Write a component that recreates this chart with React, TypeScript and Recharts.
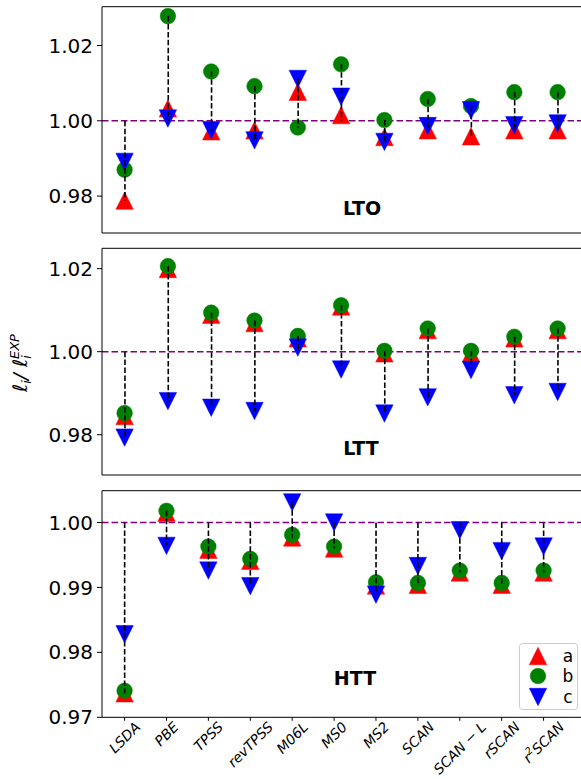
import React from 'react';
import { ComposedChart, Line, Bar, XAxis, YAxis, ReferenceLine } from 'recharts';

const CATEGORIES = ['LSDA', 'PBE', 'TPSS', 'revTPSS', 'M06L', 'MS0', 'MS2', 'SCAN', 'SCAN − L', 'rSCAN', 'r2SCAN'];

// LTO
const LTO_A = [0.9788, 1.0033, 0.9972, 0.9975, 1.0077, 1.0015, 0.9957, 0.9975, 0.9959, 0.9975, 0.9975];
const LTO_B = [0.987, 1.0278, 1.0131, 1.0092, 0.9982, 1.015, 1.0002, 1.0058, 1.0039, 1.0076, 1.0076];
const LTO_C = [0.9891, 1.0006, 0.9975, 0.9948, 1.0111, 1.0064, 0.9944, 0.9986, 1.0028, 0.9988, 0.9993];

// LTT
const LTT_A = [0.9845, 1.0199, 1.0089, 1.0069, 1.0032, 1.0109, 0.9996, 1.0052, 0.9996, 1.0032, 1.0052];
const LTT_B = [0.9852, 1.0206, 1.0094, 1.0075, 1.0038, 1.0112, 1.0002, 1.0056, 1.0002, 1.0036, 1.0056];
const LTT_C = [0.9793, 0.9881, 0.9865, 0.9857, 1.001, 0.9957, 0.9851, 0.989, 0.9956, 0.9895, 0.9903];

// HTT
const HTT_A = [0.9737, 1.0015, 0.9958, 0.9941, 0.9977, 0.996, 0.9903, 0.9904, 0.9923, 0.9904, 0.9923];
const HTT_B = [0.9741, 1.0018, 0.9963, 0.9944, 0.9981, 0.9963, 0.9908, 0.9907, 0.9926, 0.9907, 0.9926];
const HTT_C = [0.9828, 0.9964, 0.9926, 0.9902, 1.0031, 1.0, 0.9889, 0.9933, 0.9988, 0.9956, 0.9963];

const TICKS_TOP = [0.98, 1.0, 1.02];
const TICKS_HTT = [0.97, 0.98, 0.99, 1.0];
const X_TICKS = CATEGORIES.map((_, i) => i);

const FONT = 'DejaVu Sans';
const RED = '#ff0000';
const GREEN = '#008000';
const BLUE = '#0000ff';

const buildRows = (a: number[], b: number[], c: number[]) =>
  CATEGORIES.map((name, i) => ({
    x: i,
    name,
    a: a[i],
    b: b[i],
    c: c[i],
    span: [Math.min(1, a[i], b[i], c[i]), Math.max(1, a[i], b[i], c[i])],
  }));

const S = 8.7; // half marker size

const TriUp = ({ cx, cy, fill }: any) => (
  <path d={`M${cx},${cy - S}L${cx + S},${cy + S}L${cx - S},${cy + S}Z`} fill={fill} stroke={fill} strokeWidth={0.5} />
);
const TriDown = ({ cx, cy, fill }: any) => (
  <path d={`M${cx},${cy + S}L${cx + S},${cy - S}L${cx - S},${cy - S}Z`} fill={fill} stroke={fill} strokeWidth={0.5} />
);
const Dot = ({ cx, cy, fill }: any) => <circle cx={cx} cy={cy} r={7.8} fill={fill} stroke={fill} strokeWidth={0.5} />;

const DashShape = (props: any) => {
  const { x, y, width, height } = props;
  if (x == null || y == null) return null;
  const cx = x + width / 2;
  return <line x1={cx} x2={cx} y1={y} y2={y + height} stroke='#000' strokeWidth={1.6} strokeDasharray='5.5 2.4' />;
};

let ctx: CanvasRenderingContext2D | null = null;
const measure = (text: string, font: string) => {
  if (!ctx) ctx = document.createElement('canvas').getContext('2d');
  if (!ctx) return text.length * 8;
  ctx.font = font;
  return ctx.measureText(text).width;
};

const CatTick = ({ x, y, payload }: any) => {
  const label = CATEGORIES[payload.value];
  if (!label) return null;
  const isR2 = label.startsWith('r2');
  const w = measure(isR2 ? 'rSCAN' : label, `italic 14px "${FONT}"`) + (isR2 ? 6 : 0);
  const diag = (w + 10) * 0.7071;
  const cy = y - 2 + diag / 2;
  return (
    <text
      x={x}
      y={cy}
      textAnchor='middle'
      dominantBaseline='central'
      transform={`rotate(-45 ${x} ${cy})`}
      fontFamily={FONT}
      fontStyle='italic'
      fontSize={14}
      fill='#000'
    >
      {isR2 ? (
        <>
          <tspan>r</tspan>
          <tspan dy={-5} fontSize={10}>2</tspan>
          <tspan dy={5}>SCAN</tspan>
        </>
      ) : (
        label
      )}
    </text>
  );
};

const LegendBox = () => (
  <svg style={{ position: 'absolute', left: 519, top: 643 }} width={60} height={68}>
    <rect x={0.5} y={0.5} width={58} height={66} rx={3} fill='rgba(255,255,255,0.8)' stroke='#cccccc' />
    <TriUp cx={19} cy={13} fill={RED} />
    <Dot cx={19} cy={33} fill={GREEN} />
    <TriDown cx={19} cy={54} fill={BLUE} />
    {['a', 'b', 'c'].map((t, i) => (
      <text key={t} x={49} y={[13, 33, 54][i]} textAnchor='middle' dominantBaseline='central' fontFamily={FONT} fontSize={17} fill='#000'>
        {t}
      </text>
    ))}
  </svg>
);

type PanelProps = {
  top: number;
  height: number;
  margin: { top: number; bottom: number };
  yDomain: [number, number];
  yTicks: number[];
  xDomain: [number, number];
  rows: any[];
  title: string;
  titleX: number;
  titleY: number;
  showX?: boolean;
};

function Panel({ top, height, margin, yDomain, yTicks, xDomain, rows, title, titleX, titleY, showX }: PanelProps) {
  return (
    <div style={{ position: 'absolute', left: 0, top, width: 581, height }}>
      <ComposedChart width={581} height={height} data={rows} margin={{ top: margin.top, bottom: margin.bottom, left: 0, right: 0 }}>
        <XAxis
          type='number'
          dataKey='x'
          domain={xDomain}
          allowDataOverflow
          ticks={X_TICKS}
          interval={0}
          hide={!showX}
          height={55}
          tick={<CatTick />}
          tickLine={{ stroke: '#000' }}
          tickSize={3.5}
          tickMargin={2}
          axisLine={{ stroke: '#000', strokeWidth: 1 }}
        />
        <YAxis
          type='number'
          domain={yDomain}
          allowDataOverflow
          ticks={yTicks}
          width={102}
          tickSize={5}
          tickMargin={4}
          tickFormatter={(v: number) => v.toFixed(2)}
          tick={{ fontSize: 20, fill: '#000', fontFamily: FONT }}
          tickLine={{ stroke: '#000' }}
          axisLine={{ stroke: '#000', strokeWidth: 1 }}
        />
        {/* frame: top edge always, bottom edge where the x axis is hidden */}
        <ReferenceLine y={yDomain[1]} stroke='#000' strokeWidth={1} ifOverflow='visible' />
        {!showX && <ReferenceLine y={yDomain[0]} stroke='#000' strokeWidth={1} ifOverflow='visible' />}
        <ReferenceLine y={1} stroke='#800080' strokeWidth={1.6} strokeDasharray='6.5 3' />
        <Line
          dataKey='a'
          name='a'
          stroke='none'
          isAnimationActive={false}
          activeDot={false}
          dot={(p: any) => <TriUp key={`a${p.index}`} cx={p.cx} cy={p.cy} fill={RED} />}
        />
        <Line
          dataKey='b'
          name='b'
          stroke='none'
          isAnimationActive={false}
          activeDot={false}
          dot={(p: any) => <Dot key={`b${p.index}`} cx={p.cx} cy={p.cy} fill={GREEN} />}
        />
        <Line
          dataKey='c'
          name='c'
          stroke='none'
          isAnimationActive={false}
          activeDot={false}
          dot={(p: any) => <TriDown key={`c${p.index}`} cx={p.cx} cy={p.cy} fill={BLUE} />}
        />
        <Bar dataKey='span' barSize={2} legendType='none' isAnimationActive={false} shape={<DashShape />} zIndex={1000} />
      </ComposedChart>
      <div
        style={{
          position: 'absolute',
          left: titleX,
          top: titleY - top,
          transform: 'translate(-50%, -50%)',
          fontFamily: FONT,
          fontWeight: 'bold',
          fontSize: 19,
          lineHeight: 1,
          color: '#000',
        }}
      >
        {title}
      </div>
    </div>
  );
}

export default function App() {
  return (
    <div style={{ position: 'absolute', left: 0, top: 0, width: 581, height: 779, overflow: 'hidden', background: '#fff' }}>
      <Panel
        top={0}
        height={240}
        margin={{ top: 6.7, bottom: 7 }}
        yDomain={[0.9702, 1.0303]}
        yTicks={TICKS_TOP}
        xDomain={[-0.522, 10.54]}
        rows={buildRows(LTO_A, LTO_B, LTO_C)}
        title='LTO'
        titleX={362}
        titleY={208}
      />
      <Panel
        top={240}
        height={240}
        margin={{ top: 8.3, bottom: 5 }}
        yDomain={[0.9703, 1.0249]}
        yTicks={TICKS_TOP}
        xDomain={[-0.522, 10.54]}
        rows={buildRows(LTT_A, LTT_B, LTT_C)}
        title='LTT'
        titleX={361}
        titleY={448}
      />
      <Panel
        top={480}
        height={299}
        margin={{ top: 10.7, bottom: 6.7 }}
        yDomain={[0.97, 1.0049]}
        yTicks={TICKS_HTT}
        xDomain={[-0.539, 10.893]}
        rows={buildRows(HTT_A, HTT_B, HTT_C)}
        title='HTT'
        titleX={355}
        titleY={678}
        showX
      />
      <LegendBox />
      <svg style={{ position: 'absolute', left: 0, top: 0 }} width={60} height={779}>
        <g transform='translate(27,363) rotate(-90)'>
          <text x={0} y={0} textAnchor='middle' fontFamily={FONT} fontStyle='italic' fontSize={20} fill='#000'>
            <tspan>ℓ</tspan>
            <tspan dy={4} fontSize={13}>i</tspan>
            <tspan dy={-4}>/ </tspan>
            <tspan>ℓ</tspan>
            <tspan dy={4} fontSize={13}>i</tspan>
            <tspan dy={-12} dx={-4} fontSize={13}>EXP</tspan>
          </text>
        </g>
      </svg>
    </div>
  );
}
